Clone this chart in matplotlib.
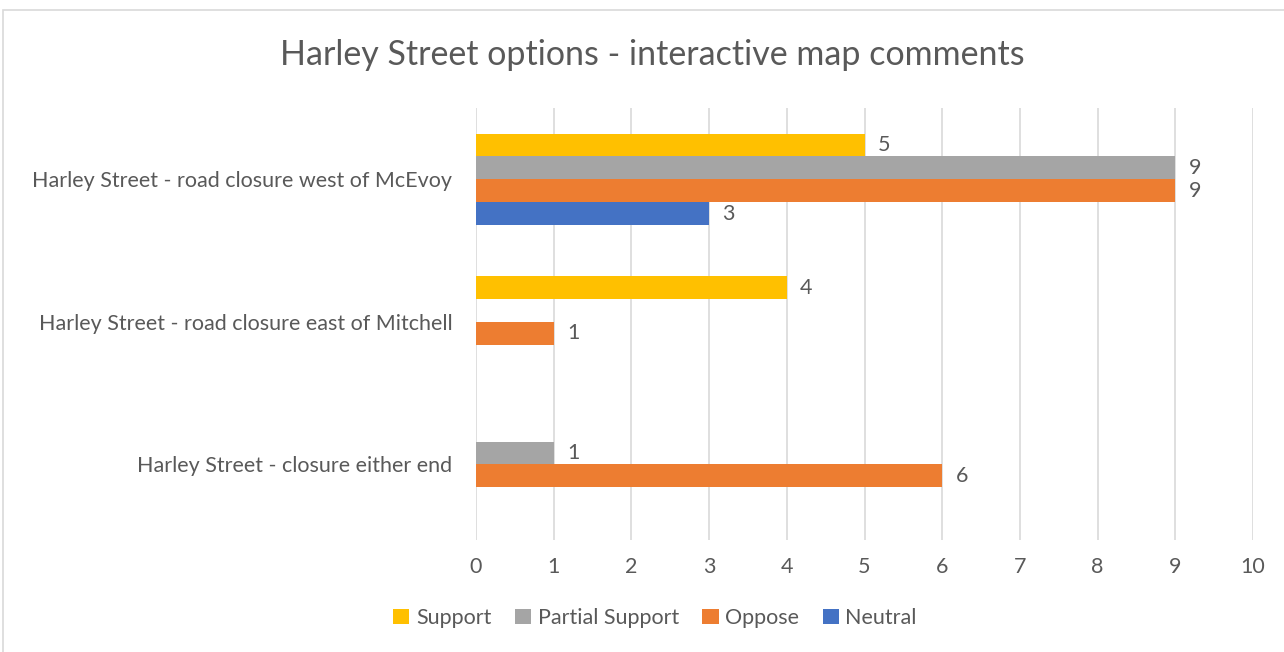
import numpy as np
import matplotlib.pyplot as plt
from matplotlib.patches import Rectangle

plt.rcParams['font.family'] = ['Lato', 'DejaVu Sans']

# Data (bottom category first, as Excel draws it)
categories = ["Harley Street - closure either end",
              "Harley Street - road closure east of Mitchell",
              "Harley Street - road closure west of McEvoy"]
series = ["Support", "Partial Support", "Oppose", "Neutral"]
support = [0, 4, 5]
partial = [1, 0, 9]
oppose = [6, 1, 9]
neutral = [0, 0, 3]
colors = ["#FFC000", "#A5A5A5", "#ED7D31", "#4472C4"]
text_col = "#595959"

fig = plt.figure(figsize=(12.84, 6.52), dpi=100)
ax = fig.add_axes([476 / 1284, 1 - 540 / 652, 777 / 1284, 432 / 652])

# chart border
fig.patches.append(Rectangle((3 / 1284, -0.02), 1.1, 1 - 10 / 652 + 0.02,
                             transform=fig.transFigure, fill=False,
                             edgecolor="#D9D9D9", linewidth=1.2))

y = np.arange(len(categories))
h = 0.16
values = [support, partial, oppose, neutral]
for i, (name, vals, c) in enumerate(zip(series, values, colors)):
    pos = y + (1.5 - i) * h
    ax.barh(pos, vals, height=h, color=c, label=name, zorder=3)
    for p, v in zip(pos, vals):
        if v:
            ax.text(v + 0.17, p, str(v), va="center", ha="left",
                    fontsize=15.5, color=text_col)

ax.set_xlim(0, 10)
ax.set_ylim(-0.53, len(categories) - 0.5)
ax.set_xticks(range(0, 11))
ax.set_yticks(y)
ax.set_yticklabels(categories)
ax.tick_params(axis="both", length=0, labelsize=15.5, colors=text_col)
ax.tick_params(axis="x", pad=12)
ax.tick_params(axis="y", pad=17)
ax.grid(axis="x", color="#D9D9D9", linewidth=1.2, zorder=0)
for s in ax.spines.values():
    s.set_visible(False)

fig.text(652 / 1284, 1 - 55 / 652, "Harley Street options - interactive map comments",
         ha="center", va="center", fontsize=24.5, color=text_col)

handles, labels = ax.get_legend_handles_labels()
fig.legend(handles, labels, loc="center", bbox_to_anchor=(655 / 1284, 1 - 618 / 652),
           ncol=4, frameon=False, fontsize=15.5, labelcolor=text_col,
           handlelength=0.75, handleheight=0.75, handletextpad=0.3, columnspacing=1.1)

plt.savefig("out.png", dpi=100)
